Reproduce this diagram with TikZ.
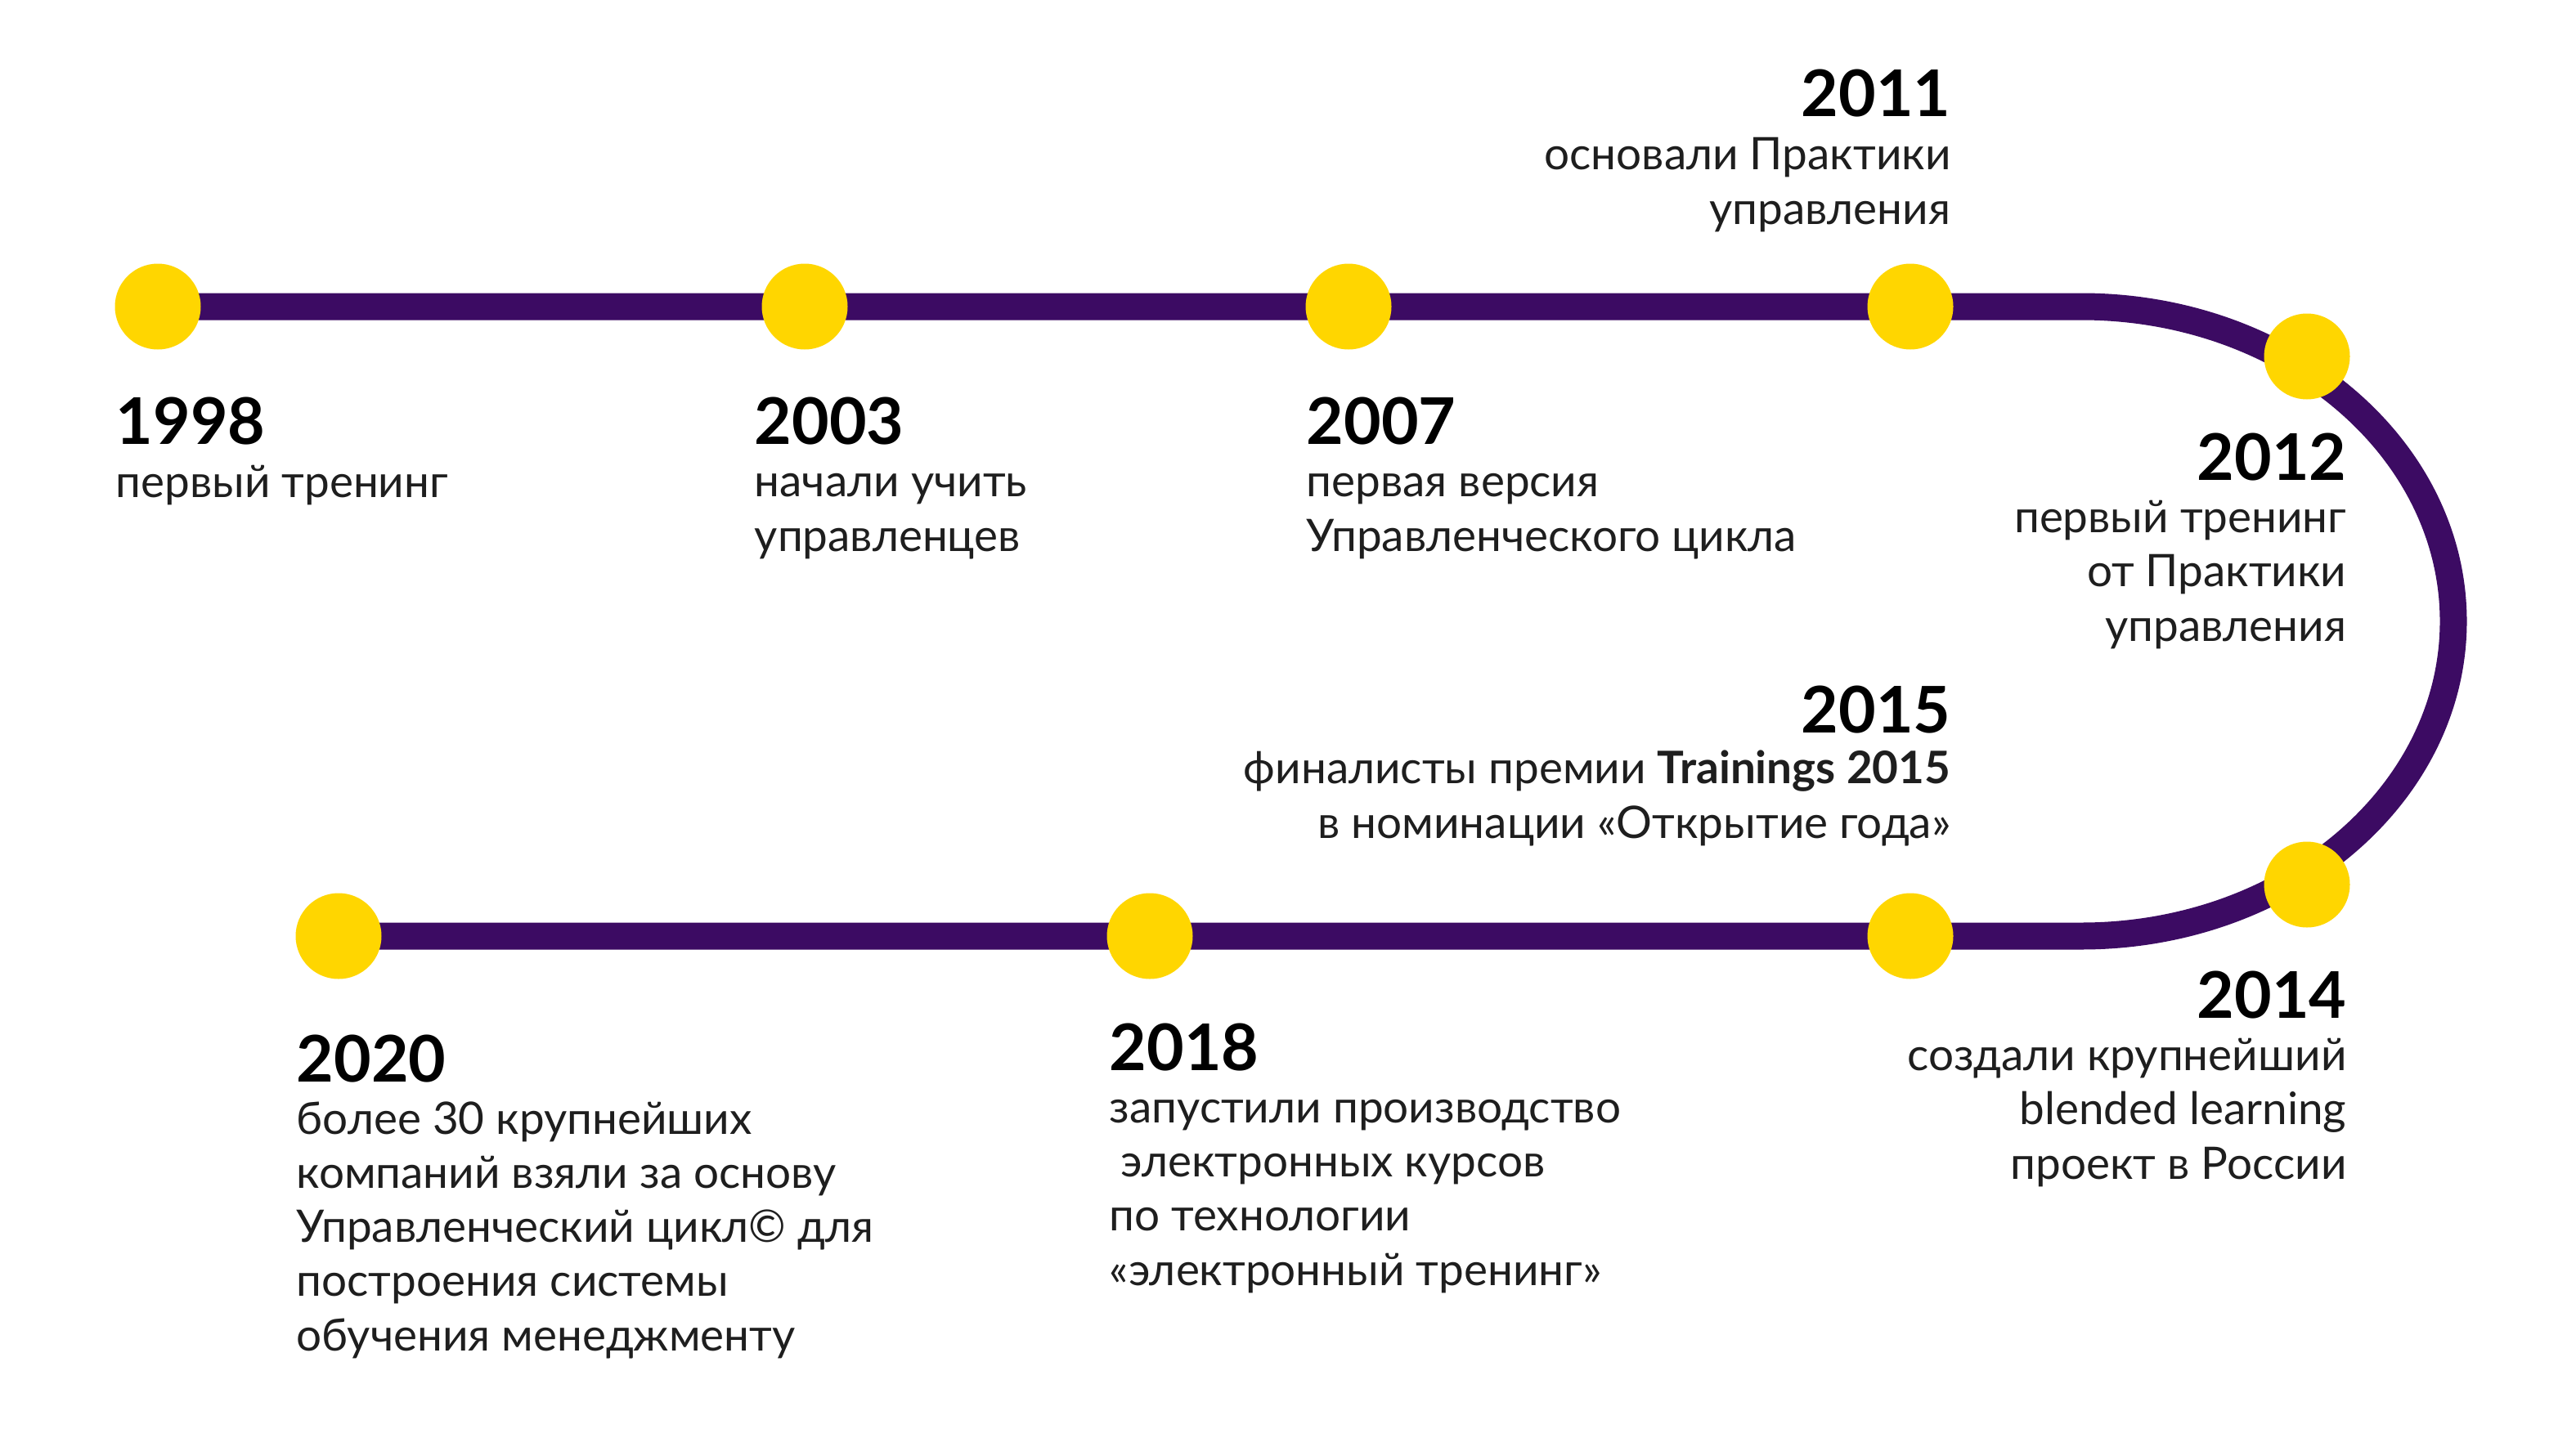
\documentclass[tikz,border=0pt]{standalone}
\usepackage{fontspec}
\setmainfont{Lato}
\usetikzlibrary{positioning}
\definecolor{liniya}{HTML}{3C0B63}
\definecolor{zhelt}{HTML}{FFD600}
\definecolor{tekst}{HTML}{1E1E1E}
\begin{document}
\begin{tikzpicture}[
				line join = round,line cap = butt,
				put/.style={draw = liniya, line width=0.33cm},
				tochka/.style={circle,fill = zhelt, minimum size=1.05cm, inner sep=0pt},
				god/.style={inner sep=0pt, text=black, font=\fontsize{22.4}{26}\selectfont\bfseries},
				opis/.style={inner sep=0pt, text=tekst, font=\fontsize{15.6}{18.8}\selectfont}]
				\useasboundingbox (0,0) rectangle (31.5,-17.58);
				% points of the road
				\coordinate (p1998) at (1.93,-3.75);
				\coordinate (p2003) at (9.84,-3.75);
				\coordinate (p2007) at (16.49,-3.75);
				\coordinate (p2011) at (23.36,-3.75);
				\coordinate (p2012) at (28.21,-4.36);
				\coordinate (p2014) at (28.21,-10.82);
				\coordinate (p2015) at (23.36,-11.45);
				\coordinate (p2018) at (14.06,-11.45);
				\coordinate (p2020) at (4.14,-11.45);
				\coordinate (povorot) at (25.45,-3.75);
				\draw[put] (p1998) -- (povorot) arc[start angle=90, end angle=-90, x radius=4.55, y radius=3.85] -- (p2020);
				\foreach \y in {1998,2003,2007,2011,2012,2014,2015,2018,2020}
					\node at (p\y) (dot\y) [tochka] {};
				% upper row (base of a text node is its last line)
				\node at (1.41,-5.43) (nodeY1998) [god, anchor=base west] {1998};
				\node at ([yshift=-0.65cm]nodeY1998.base west) (nodeT1998) [opis, anchor=base west, align=left] {первый тренинг};
				\node at (9.22,-5.43) (nodeY2003) [god, anchor=base west] {2003};
				\node at ([yshift=-1.31cm]nodeY2003.base west) (nodeT2003) [opis, anchor=base west, align=left] {начали учить\\управленцев};
				\node at (15.97,-5.43) (nodeY2007) [god, anchor=base west] {2007};
				\node at ([yshift=-1.31cm]nodeY2007.base west) (nodeT2007) [opis, anchor=base west, align=left] {первая версия\\Управленческого цикла};
				\node at (23.86,-1.43) (nodeY2011) [god, anchor=base east] {2011};
				\node at ([yshift=-1.31cm]nodeY2011.base east) (nodeT2011) [opis, anchor=base east, align=right] {основали Практики\\управления};
				% right side
				\node at (28.70,-5.87) (nodeY2012) [god, anchor=base east] {2012};
				\node at ([yshift=-1.97cm]nodeY2012.base east) (nodeT2012) [opis, anchor=base east, align=right] {первый тренинг\\от Практики\\управления};
				\node at (28.70,-12.45) (nodeY2014) [god, anchor=base east] {2014};
				\node at ([yshift=-1.97cm]nodeY2014.base east) (nodeT2014) [opis, anchor=base east, align=right] {создали крупнейший\\blended learning\\проект в России};
				% lower row
				\node at (23.86,-8.96) (nodeY2015) [god, anchor=base east] {2015};
				\node at ([yshift=-1.29cm]nodeY2015.base east) (nodeT2015) [opis, anchor=base east, align=right] {финалисты премии \textbf{Trainings 2015}\\в номинации «Открытие года»};
				\node at (13.56,-13.09) (nodeY2018) [god, anchor=base west] {2018};
				\node at ([yshift=-2.63cm]nodeY2018.base west) (nodeT2018) [opis, anchor=base west, align=left] {запустили производство\\\ электронных курсов\\по технологии\\«электронный тренинг»};
				\node at (3.62,-13.23) (nodeY2020) [god, anchor=base west] {2020};
				\node at ([yshift=-3.29cm]nodeY2020.base west) (nodeT2020) [opis, anchor=base west, align=left] {более 30 крупнейших\\компаний взяли за основу\\Управленческий цикл© для\\построения системы\\обучения менеджменту};
			\end{tikzpicture}
\end{document}
